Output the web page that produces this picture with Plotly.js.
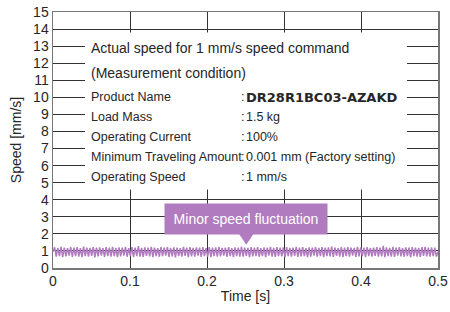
<!DOCTYPE html>
<html><head><meta charset="utf-8">
<script src="https://cdn.plot.ly/plotly-3.0.1.min.js"></script>
<style>html,body{margin:0;padding:0;background:#fff}#chart{width:450px;height:312px}</style>
</head><body><div id="chart"></div>
<script>
// measured speed samples [mm/s], evenly sampled over 0 - 0.5 s
const speed = [
0.95,1.21,0.66,1.18,0.7,1.24,0.63,1.2,0.68,1.16,0.72,1.23,0.65,1.19,0.69,1.22,0.67,1.17,0.64,1.25,
0.7,1.2,0.66,1.18,0.71,1.23,0.62,1.19,0.68,1.21,0.73,1.16,0.65,1.22,0.69,1.2,0.66,1.24,0.7,1.18,
0.64,1.21,0.68,1.19,0.72,1.23,0.66,1.17,0.69,1.22,0.63,1.2,0.7,1.28,0.67,1.18,0.65,1.21,0.71,1.19,
0.68,1.24,0.64,1.2,0.7,1.16,0.66,1.22,0.69,1.19,0.73,1.23,0.65,1.18,0.68,1.21,0.62,1.2,0.7,1.17,
0.67,1.24,0.71,1.19,0.64,1.22,0.68,1.18,0.66,1.21,0.72,1.2,0.65,1.23,0.69,1.16,0.67,1.22,0.63,1.19,
0.7,1.21,0.66,1.24,0.68,1.18,0.72,1.2,0.65,1.23,0.69,1.17,0.64,1.21,0.7,1.19,0.67,1.25,0.66,1.2,
0.71,1.18,0.63,1.22,0.68,1.19,0.7,1.23,0.66,1.17,0.69,1.21,0.64,1.2,0.72,1.24,0.67,1.18,0.65,1.22,
0.7,1.19,0.68,1.21,0.62,1.23,0.69,1.18,0.66,1.2,0.71,1.24,0.65,1.19,0.68,1.22,0.7,1.17,0.64,1.21,
0.67,1.2,0.72,1.23,0.66,1.18,0.69,1.22,0.63,1.19,0.7,1.21,0.68,1.25,0.65,1.2,0.71,1.17,0.67,1.23,
0.64,1.19,0.69,1.22,0.66,1.2,0.72,1.18,0.65,1.24,0.68,1.21,0.7,1.19,0.63,1.22,0.69,1.18,0.67,1.2,
0.71,1.23,0.66,1.19,0.68,1.29,0.64,1.21,0.7,1.18,0.67,1.24,0.65,1.2,0.72,1.22,0.68,1.17,0.66,1.21,
0.69,1.19,0.63,1.23,0.7,1.2,0.67,1.18,0.65,1.22,0.71,1.24,0.68,1.19,0.66,1.21,0.7,1.2,0.67,0.95
];
const tStart = 0, tEnd = 0.5;
const time = speed.map((_, i) => tStart + (tEnd - tStart) * i / (speed.length - 1));

const xTicks = [0, 0.1, 0.2, 0.3, 0.4, 0.5];
const xTickLabels = ['0', '0.1', '0.2', '0.3', '0.4', '0.5'];
const yTicks = [0,1,2,3,4,5,6,7,8,9,10,11,12,13,14,15];

const titleLines = ['Actual speed for 1 mm/s speed command', '(Measurement condition)'];
const condLabels = ['Product Name', 'Load Mass', 'Operating Current', 'Minimum Traveling Amount', 'Operating Speed'];
const condValues = ['DR28R1BC03-AZAKD', '1.5 kg', '100%', '0.001 mm (Factory setting)', '1 mm/s'];
const calloutText = 'Minor speed fluctuation';

const sans = '"Liberation Sans", Arial, sans-serif';
const txt = '#262626';
const purple = '#b07cbf';

const annotations = [];
const titleY = [12.9, 11.45];
titleLines.forEach((t, i) => annotations.push({
  x: 0.047, y: titleY[i], xref: 'x', yref: 'y', xanchor: 'left', yanchor: 'middle',
  text: t, showarrow: false, font: {family: sans, size: 14, color: txt}
}));
const condY = [10.0, 8.85, 7.67, 6.5, 5.33];
condLabels.forEach((t, i) => {
  annotations.push({x: 0.047, y: condY[i], xref: 'x', yref: 'y', xanchor: 'left', yanchor: 'middle',
    text: t, showarrow: false, font: {family: sans, size: 12.5, color: txt}});
  annotations.push({x: 0.2415, y: condY[i], xref: 'x', yref: 'y', xanchor: 'left', yanchor: 'middle',
    text: ':', showarrow: false, font: {family: sans, size: 12.5, color: txt}});
  const isBold = i === 0;
  annotations.push({x: isBold ? 0.2485 : 0.2475, y: condY[i], xref: 'x', yref: 'y', xanchor: 'left', yanchor: 'middle',
    text: isBold ? '<b>' + condValues[i] + '</b>' : condValues[i], showarrow: false,
    font: isBold ? {family: '"DejaVu Sans", sans-serif', size: 13, color: txt} : {family: sans, size: 12.5, color: txt}});
});
annotations.push({x: 0.2506, y: 2.87, xref: 'x', yref: 'y', xanchor: 'center', yanchor: 'middle',
  text: calloutText, showarrow: false, font: {family: sans, size: 14, color: '#fff'},
  bgcolor: purple, borderpad: 0, width: 162, height: 30});

const layout = {
  width: 450, height: 312,
  margin: {l: 53, r: 12, t: 12, b: 44},
  paper_bgcolor: '#fff', plot_bgcolor: '#fff',
  showlegend: false,
  xaxis: {range: [0, 0.5], tickvals: xTicks, ticktext: xTickLabels, showgrid: true, gridcolor: '#333', gridwidth: 1,
    zeroline: false, showline: true, linecolor: '#777', linewidth: 1.5, mirror: true, ticks: '',
    tickfont: {family: sans, size: 14, color: txt},
    title: {text: 'Time [s]', font: {family: sans, size: 14, color: txt}, standoff: 3}},
  yaxis: {range: [0, 15], tickvals: yTicks, showgrid: true, gridcolor: '#333', gridwidth: 1,
    zeroline: false, showline: true, linecolor: '#777', linewidth: 1.5, mirror: true, ticks: '',
    tickfont: {family: sans, size: 14, color: txt},
    title: {text: 'Speed [mm/s]', font: {family: sans, size: 14, color: txt}, standoff: 8}},
  shapes: [
    {type: 'rect', xref: 'x', yref: 'y', x0: 0.0416, x1: 0.4597, y0: 4.6, y1: 13.8,
     fillcolor: '#fff', line: {width: 0}, layer: 'above'},
    {type: 'path', xref: 'x', yref: 'y', path: 'M 0.2415 2.0 L 0.2605 2.0 L 0.251 1.36 Z',
     fillcolor: purple, line: {width: 0}, layer: 'above'}
  ],
  annotations: annotations
};

Plotly.newPlot('chart', [{
  x: time, y: speed, type: 'scatter', mode: 'lines',
  line: {color: purple, width: 1.5}, hoverinfo: 'skip'
}], layout, {staticPlot: true, displayModeBar: false});
</script></body></html>
